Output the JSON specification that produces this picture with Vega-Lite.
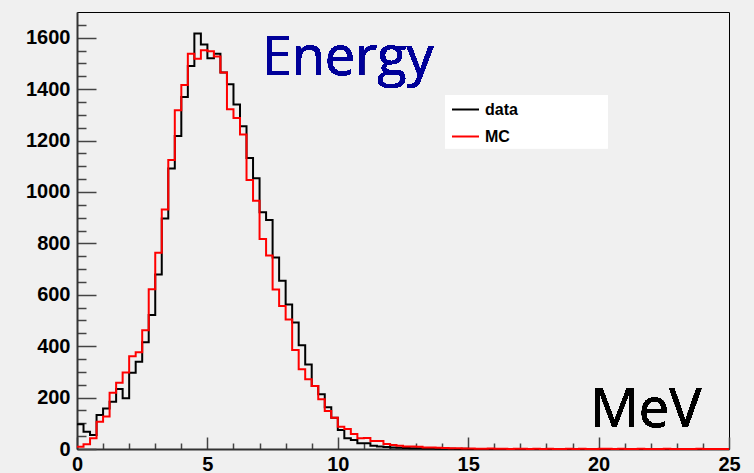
{
  "$schema": "https://vega.github.io/schema/vega-lite/v6.json",
  "width": 652,
  "height": 437,
  "autosize": {"type": "none"},
  "padding": {"left": 77, "top": 12, "right": 25, "bottom": 24},
  "background": "#f0f0f0",
  "config": {"view": {"stroke": "#000000", "strokeWidth": 1, "fill": "#f0f0f0"}, "font": "Liberation Sans", "axis": {"labelOverlap": false}},
  "data": {"values": [
    {"e":0,"data":96,"MC":9},{"e":0.25,"data":67,"MC":18},{"e":0.5,"data":54,"MC":42},{"e":0.75,"data":132,"MC":106},
    {"e":1,"data":158,"MC":126},{"e":1.25,"data":184,"MC":219},{"e":1.5,"data":233,"MC":258},{"e":1.75,"data":197,"MC":298},
    {"e":2,"data":297,"MC":361},{"e":2.25,"data":339,"MC":376},{"e":2.5,"data":415,"MC":462},{"e":2.75,"data":521,"MC":621},
    {"e":3,"data":679,"MC":763},{"e":3.25,"data":897,"MC":932},{"e":3.5,"data":1091,"MC":1124},{"e":3.75,"data":1218,"MC":1318},
    {"e":4,"data":1369,"MC":1416},{"e":4.25,"data":1490,"MC":1538},{"e":4.5,"data":1616,"MC":1518},{"e":4.75,"data":1574,"MC":1551},
    {"e":5,"data":1520,"MC":1547},{"e":5.25,"data":1538,"MC":1527},{"e":5.5,"data":1465,"MC":1465},{"e":5.75,"data":1419,"MC":1322},
    {"e":6,"data":1340,"MC":1288},{"e":6.25,"data":1256,"MC":1223},{"e":6.5,"data":1132,"MC":1046},{"e":6.75,"data":1053,"MC":966},
    {"e":7,"data":921,"MC":817},{"e":7.25,"data":891,"MC":753},{"e":7.5,"data":745,"MC":620},{"e":7.75,"data":655,"MC":556},
    {"e":8,"data":562,"MC":504},{"e":8.25,"data":492,"MC":385},{"e":8.5,"data":404,"MC":310},{"e":8.75,"data":329,"MC":271},
    {"e":9,"data":245,"MC":245},{"e":9.25,"data":213,"MC":194},{"e":9.5,"data":162,"MC":148},{"e":9.75,"data":122,"MC":122},
    {"e":10,"data":74,"MC":87},{"e":10.25,"data":42,"MC":78},{"e":10.5,"data":35,"MC":58},{"e":10.75,"data":22,"MC":42},
    {"e":11,"data":22,"MC":43},{"e":11.25,"data":13,"MC":31},{"e":11.5,"data":10,"MC":31},{"e":11.75,"data":8,"MC":19},
    {"e":12,"data":6,"MC":16},{"e":12.25,"data":5,"MC":13},{"e":12.5,"data":4,"MC":10},{"e":12.75,"data":3,"MC":10},
    {"e":13,"data":3,"MC":9},{"e":13.25,"data":2,"MC":6},{"e":13.5,"data":2,"MC":6},{"e":13.75,"data":1,"MC":5},
    {"e":14,"data":1,"MC":4},{"e":14.25,"data":1,"MC":3},{"e":14.5,"data":0,"MC":3},{"e":14.75,"data":1,"MC":2},
    {"e":15,"data":0,"MC":2},{"e":15.25,"data":0,"MC":1},{"e":15.5,"data":0,"MC":1},{"e":15.75,"data":0,"MC":2},
    {"e":16,"data":0,"MC":1},{"e":16.25,"data":0,"MC":1},{"e":16.5,"data":0,"MC":0},{"e":16.75,"data":0,"MC":1},
    {"e":17,"data":0,"MC":1},{"e":17.25,"data":0,"MC":0},{"e":17.5,"data":0,"MC":1},{"e":17.75,"data":0,"MC":0},
    {"e":18,"data":0,"MC":1},{"e":18.25,"data":0,"MC":0},{"e":18.5,"data":0,"MC":0},{"e":18.75,"data":0,"MC":1},
    {"e":19,"data":0,"MC":0},{"e":19.25,"data":0,"MC":1},{"e":19.5,"data":0,"MC":0},{"e":19.75,"data":0,"MC":0},
    {"e":20,"data":0,"MC":1},{"e":20.25,"data":0,"MC":1},{"e":20.5,"data":0,"MC":0},{"e":20.75,"data":0,"MC":1},
    {"e":21,"data":0,"MC":0},{"e":21.25,"data":0,"MC":0},{"e":21.5,"data":0,"MC":1},{"e":21.75,"data":0,"MC":0},
    {"e":22,"data":0,"MC":0},{"e":22.25,"data":0,"MC":0},{"e":22.5,"data":0,"MC":1},{"e":22.75,"data":0,"MC":0},
    {"e":23,"data":0,"MC":0},{"e":23.25,"data":0,"MC":0},{"e":23.5,"data":0,"MC":0},{"e":23.75,"data":0,"MC":1},
    {"e":24,"data":0,"MC":0},{"e":24.25,"data":0,"MC":0},{"e":24.5,"data":0,"MC":0},{"e":24.75,"data":0,"MC":0},
    {"e":25,"data":0,"MC":0}
  ]},
  "layer": [
    {
      "transform": [{"fold": ["data", "MC"], "as": ["series", "count"]}],
      "mark": {"type": "line", "interpolate": "step-after", "strokeWidth": 2},
      "encoding": {
        "x": {
          "field": "e", "type": "quantitative",
          "scale": {"domain": [0, 25], "nice": false, "zero": false},
          "axis": {
            "title": null, "grid": false,
            "values": [0,1,2,3,4,5,6,7,8,9,10,11,12,13,14,15,16,17,18,19,20,21,22,23,24,25],
            "labelExpr": "datum.value % 5 === 0 ? datum.label : ''",
            "tickSize": {"condition": {"test": "datum.value % 5 === 0", "value": -12}, "value": -6},
            "labelFontSize": {"condition": {"test": "datum.value % 5 === 0", "value": 20}, "value": 0},
            "tickColor": "#444444", "tickWidth": 1.5, "domainColor": "#333333", "domainWidth": 2,
            "labelPadding": 17, "labelFontWeight": "bold", "labelColor": "#000000",
            "labelFont": "Liberation Sans", "labelFlush": false, "labelOverlap": false, "format": "d"
          }
        },
        "y": {
          "field": "count", "type": "quantitative",
          "scale": {"domain": [0, 1700], "nice": false},
          "axis": {
            "title": null, "grid": false,
            "values": [0,50,100,150,200,250,300,350,400,450,500,550,600,650,700,750,800,850,900,950,1000,1050,1100,1150,1200,1250,1300,1350,1400,1450,1500,1550,1600,1650],
            "labelExpr": "datum.value % 200 === 0 ? datum.label : ''",
            "tickSize": {"condition": {"test": "datum.value % 200 === 0", "value": -19}, "value": -9},
            "labelFontSize": {"condition": {"test": "datum.value % 200 === 0", "value": 20}, "value": 0},
            "tickColor": "#444444", "tickWidth": 1.5, "domainColor": "#333333", "domainWidth": 2,
            "labelPadding": 26, "labelFontWeight": "bold", "labelColor": "#000000",
            "labelFont": "Liberation Sans", "labelFlush": false, "labelOverlap": false, "format": "d"
          }
        },
        "color": {
          "field": "series", "type": "nominal",
          "scale": {"domain": ["data", "MC"], "range": ["#000000", "#ff0000"]},
          "legend": {
            "title": null, "orient": "none", "legendX": 368, "legendY": 83,
            "padding": 0, "rowPadding": 4,
            "symbolType": "stroke", "symbolSize": 729, "symbolStrokeWidth": 2, "symbolOffset": 6,
            "labelFont": "Liberation Sans", "labelFontWeight": "bold", "labelFontSize": 16, "labelColor": "#000000",
            "labelOffset": 5
          }
        }
      }
    },
    {
      "mark": {"type": "rect", "color": "#ffffff"},
      "encoding": {
        "x": {"datum": 14.11, "type": "quantitative", "axis": {
            "title": null, "grid": false,
            "values": [0,1,2,3,4,5,6,7,8,9,10,11,12,13,14,15,16,17,18,19,20,21,22,23,24,25],
            "labelExpr": "datum.value % 5 === 0 ? datum.label : ''",
            "tickSize": {"condition": {"test": "datum.value % 5 === 0", "value": -12}, "value": -6},
            "labelFontSize": {"condition": {"test": "datum.value % 5 === 0", "value": 20}, "value": 0},
            "tickColor": "#444444", "tickWidth": 1.5, "domainColor": "#333333", "domainWidth": 2,
            "labelPadding": 17, "labelFontWeight": "bold", "labelColor": "#000000",
            "labelFont": "Liberation Sans", "labelFlush": false, "labelOverlap": false, "format": "d"
          }},
        "x2": {"datum": 20.36},
        "y": {"datum": 1376, "type": "quantitative", "axis": {
            "title": null, "grid": false,
            "values": [0,50,100,150,200,250,300,350,400,450,500,550,600,650,700,750,800,850,900,950,1000,1050,1100,1150,1200,1250,1300,1350,1400,1450,1500,1550,1600,1650],
            "labelExpr": "datum.value % 200 === 0 ? datum.label : ''",
            "tickSize": {"condition": {"test": "datum.value % 200 === 0", "value": -19}, "value": -9},
            "labelFontSize": {"condition": {"test": "datum.value % 200 === 0", "value": 20}, "value": 0},
            "tickColor": "#444444", "tickWidth": 1.5, "domainColor": "#333333", "domainWidth": 2,
            "labelPadding": 26, "labelFontWeight": "bold", "labelColor": "#000000",
            "labelFont": "Liberation Sans", "labelFlush": false, "labelOverlap": false, "format": "d"
          }},
        "y2": {"datum": 1170}
      }
    },
    {
      "mark": {"type": "text", "font": "Open Sans", "fontSize": 54, "color": "#000099", "align": "left", "baseline": "alphabetic"},
      "encoding": {
        "x": {"datum": 7.08, "type": "quantitative", "axis": {
            "title": null, "grid": false,
            "values": [0,1,2,3,4,5,6,7,8,9,10,11,12,13,14,15,16,17,18,19,20,21,22,23,24,25],
            "labelExpr": "datum.value % 5 === 0 ? datum.label : ''",
            "tickSize": {"condition": {"test": "datum.value % 5 === 0", "value": -12}, "value": -6},
            "labelFontSize": {"condition": {"test": "datum.value % 5 === 0", "value": 20}, "value": 0},
            "tickColor": "#444444", "tickWidth": 1.5, "domainColor": "#333333", "domainWidth": 2,
            "labelPadding": 17, "labelFontWeight": "bold", "labelColor": "#000000",
            "labelFont": "Liberation Sans", "labelFlush": false, "labelOverlap": false, "format": "d"
          }},
        "y": {"datum": 1455, "type": "quantitative", "axis": {
            "title": null, "grid": false,
            "values": [0,50,100,150,200,250,300,350,400,450,500,550,600,650,700,750,800,850,900,950,1000,1050,1100,1150,1200,1250,1300,1350,1400,1450,1500,1550,1600,1650],
            "labelExpr": "datum.value % 200 === 0 ? datum.label : ''",
            "tickSize": {"condition": {"test": "datum.value % 200 === 0", "value": -19}, "value": -9},
            "labelFontSize": {"condition": {"test": "datum.value % 200 === 0", "value": 20}, "value": 0},
            "tickColor": "#444444", "tickWidth": 1.5, "domainColor": "#333333", "domainWidth": 2,
            "labelPadding": 26, "labelFontWeight": "bold", "labelColor": "#000000",
            "labelFont": "Liberation Sans", "labelFlush": false, "labelOverlap": false, "format": "d"
          }},
        "text": {"value": "Energy"}
      }
    },
    {
      "mark": {"type": "text", "font": "Open Sans", "fontSize": 54, "color": "#000000", "align": "left", "baseline": "alphabetic"},
      "encoding": {
        "x": {"datum": 19.68, "type": "quantitative", "axis": {
            "title": null, "grid": false,
            "values": [0,1,2,3,4,5,6,7,8,9,10,11,12,13,14,15,16,17,18,19,20,21,22,23,24,25],
            "labelExpr": "datum.value % 5 === 0 ? datum.label : ''",
            "tickSize": {"condition": {"test": "datum.value % 5 === 0", "value": -12}, "value": -6},
            "labelFontSize": {"condition": {"test": "datum.value % 5 === 0", "value": 20}, "value": 0},
            "tickColor": "#444444", "tickWidth": 1.5, "domainColor": "#333333", "domainWidth": 2,
            "labelPadding": 17, "labelFontWeight": "bold", "labelColor": "#000000",
            "labelFont": "Liberation Sans", "labelFlush": false, "labelOverlap": false, "format": "d"
          }},
        "y": {"datum": 86, "type": "quantitative", "axis": {
            "title": null, "grid": false,
            "values": [0,50,100,150,200,250,300,350,400,450,500,550,600,650,700,750,800,850,900,950,1000,1050,1100,1150,1200,1250,1300,1350,1400,1450,1500,1550,1600,1650],
            "labelExpr": "datum.value % 200 === 0 ? datum.label : ''",
            "tickSize": {"condition": {"test": "datum.value % 200 === 0", "value": -19}, "value": -9},
            "labelFontSize": {"condition": {"test": "datum.value % 200 === 0", "value": 20}, "value": 0},
            "tickColor": "#444444", "tickWidth": 1.5, "domainColor": "#333333", "domainWidth": 2,
            "labelPadding": 26, "labelFontWeight": "bold", "labelColor": "#000000",
            "labelFont": "Liberation Sans", "labelFlush": false, "labelOverlap": false, "format": "d"
          }},
        "text": {"value": "MeV"}
      }
    }
  ]
}
